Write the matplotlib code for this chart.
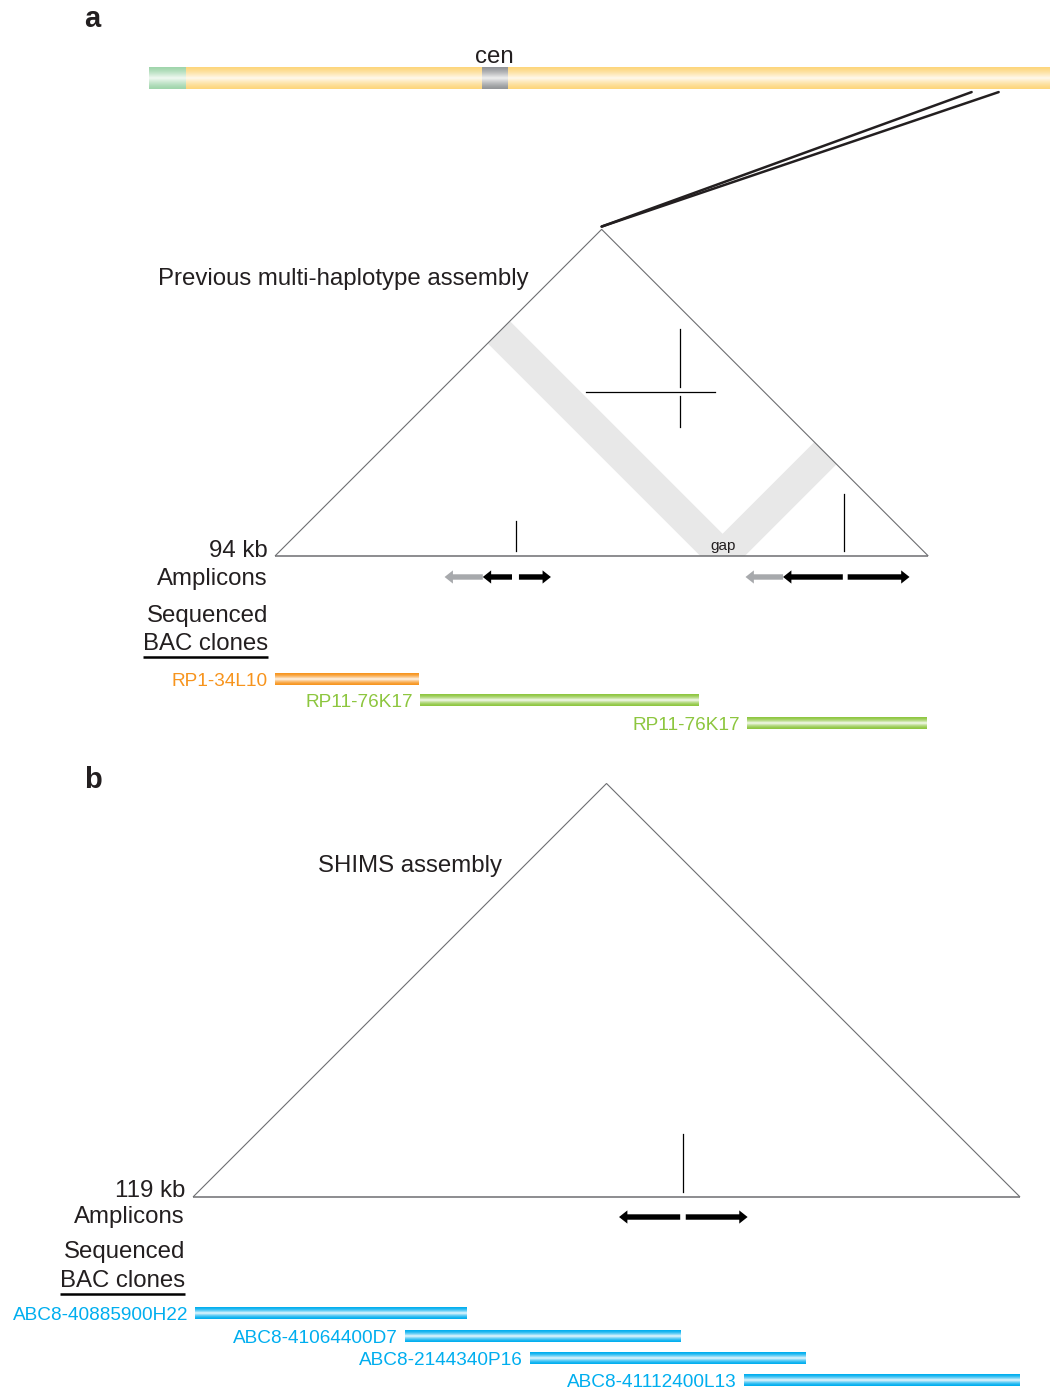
import numpy as np
import matplotlib
matplotlib.use('Agg')
import matplotlib.pyplot as plt
from matplotlib.patches import Polygon, FancyArrow, ConnectionPatch
from matplotlib.colors import to_rgb

plt.rcParams['font.family'] = ['Liberation Sans', 'DejaVu Sans']

W, H = 1050, 1390
PX_PER_KB = 6.95
INK = '#231f20'
EDGE = '#6d6e71'
GREY_ARROW = '#a7a9ac'
LABEL_SIZE = 17.3
CLONE_SIZE = 13.7

# chromosome ideogram (fraction of chromosome length)
chrom_bands = [(0.0, 1.0, '#fdd67c'), (0.0, 0.040, '#9fd5ab'), (0.3696, 0.398, '#939598')]
cen_band = (0.3696, 0.398)
region_on_chrom = [0.913, 0.943]

# panel a: previous multi-haplotype assembly (kb)
len_a = 94
gap_a = (61.2, 67.6)
tick_pos_a = [34.7, 81.9]
tick_top_a = [5.0, 8.9]
cross_hx = [44.75, 63.3]
cross_hy = 23.6
cross_vx = 58.3
cross_vy = [(18.6, 23.0), (24.3, 32.7)]
amp_tail_a = [29.9, 34.1, 35.1, 73.1, 81.7, 82.4]
amp_head_a = [24.4, 29.9, 39.7, 67.7, 73.1, 91.3]
amp_grey_a = [True, False, False, True, False, False]
bac_names_a = ['RP1-34L10', 'RP11-76K17', 'RP11-76K17']
bac_start_a = [0.0, 20.9, 67.9]
bac_end_a = [20.7, 61.0, 93.7]
bac_color_a = ['#f7941d', '#8dc63f', '#8dc63f']

# panel b: SHIMS assembly (kb)
len_b = 119
tick_pos_b = [70.5]
tick_top_b = [9.1]
amp_tail_b = [70.1, 70.9]
amp_head_b = [61.3, 79.8]
bac_names_b = ['ABC8-40885900H22', 'ABC8-41064400D7', 'ABC8-2144340P16', 'ABC8-41112400L13']
bac_start_b = [0.3, 30.5, 48.5, 79.3]
bac_end_b = [39.3, 70.2, 88.2, 119.0]
bac_color_b = ['#00aeef'] * 4

fig = plt.figure(figsize=(W / 100, H / 100), dpi=100)


def panel_axes(top_px, bottom_px, base_x_px, base_y_px):
    ax = fig.add_axes([0, 1 - bottom_px / H, 1, (bottom_px - top_px) / H])
    lims = ((-base_x_px / PX_PER_KB, (W - base_x_px) / PX_PER_KB),
            ((base_y_px - bottom_px) / PX_PER_KB, (base_y_px - top_px) / PX_PER_KB))
    ax.axis('off')
    return ax, lims


def shaded_bar(ax, x0, x1, yc, h, color, white=0.92, power=1.6):
    t = np.linspace(-1, 1, 64)
    mix = white * (1 - np.abs(t)) ** power
    rgb = np.array(to_rgb(color))
    img = rgb[None, :] * (1 - mix[:, None]) + mix[:, None]
    ax.imshow(img[:, None, :], extent=(x0, x1, yc - h / 2, yc + h / 2),
              aspect='auto', interpolation='bilinear', zorder=2)


def draw_triangle(ax, length):
    tri = Polygon([(0, 0), (length / 2, length / 2), (length, 0)], closed=False,
                  fill=False, edgecolor=EDGE, lw=0.8, zorder=3)
    ax.add_patch(tri)
    ax.plot([0, length], [0, 0], color=EDGE, lw=1.1, zorder=3, solid_capstyle='butt')


def draw_ticks(ax, pos, tops):
    for x, top in zip(pos, tops):
        ax.plot([x, x], [0.7, top], color='black', lw=0.9, zorder=4)


def draw_amplicons(ax, tails, heads, greys, row):
    for tail, head, grey in zip(tails, heads, greys):
        ax.add_patch(FancyArrow(tail, row, head - tail, 0, width=0.78, head_width=1.9,
                                head_length=1.2, length_includes_head=True, lw=0,
                                color=GREY_ARROW if grey else 'black', zorder=3 if grey else 4))


def draw_clones(ax, names, starts, ends, colors, rows):
    for name, s, e, c, r in zip(names, starts, ends, colors, rows):
        shaded_bar(ax, s, e, r, 1.6, c)
        ax.text(s - 1.0, r - 0.94, name, ha='right', va='baseline', color=c, fontsize=CLONE_SIZE)


def side_labels(ax, x, length, rows):
    texts = [ax.text(x, rows[0], f'{length} kb', ha='right', va='baseline',
                     color=INK, fontsize=LABEL_SIZE)]
    for label, y in zip(['Amplicons', 'Sequenced', 'BAC clones'], rows[1:]):
        texts.append(ax.text(x, y, label, ha='right', va='baseline', color=INK, fontsize=LABEL_SIZE))
    return texts


# chromosome
ax_c = fig.add_axes([149 / W, 1 - 89 / H, (W - 149) / W, 22 / H])
for x0, x1, c in chrom_bands:
    shaded_bar(ax_c, x0, x1, 0.5, 1.0, c, white=0.85, power=1.3)
ax_c.text(sum(cen_band) / 2, 1.17, 'cen', ha='center', va='baseline', color=INK, fontsize=LABEL_SIZE)
ax_c.set_xlim(0, 1)
ax_c.set_ylim(0, 1)
ax_c.axis('off')

# panel a
ax_a, lims_a = panel_axes(100, 745, 275, 556)
g1, g2 = gap_a
band_l = [(g1 / 2, g1 / 2), (g2 / 2, g2 / 2), (g2, 0), (g1, 0)]
band_r = [(g1, 0), (g2, 0), ((g2 + len_a) / 2, (len_a - g2) / 2), ((g1 + len_a) / 2, (len_a - g1) / 2)]
for pts in (band_l, band_r):
    ax_a.add_patch(Polygon(pts, closed=True, facecolor='#e8e8e8', edgecolor='none', zorder=1))
ax_a.text((g1 + g2) / 2, 0.86, 'gap', ha='center', va='baseline', color=INK, fontsize=11, zorder=5)
draw_triangle(ax_a, len_a)
draw_ticks(ax_a, tick_pos_a, tick_top_a)
ax_a.plot(cross_hx, [cross_hy, cross_hy], color='black', lw=0.9, zorder=4)
for y0, y1 in cross_vy:
    ax_a.plot([cross_vx, cross_vx], [y0, y1], color='black', lw=0.9, zorder=4)
draw_amplicons(ax_a, amp_tail_a, amp_head_a, amp_grey_a, -3.02)
draw_clones(ax_a, bac_names_a, bac_start_a, bac_end_a, bac_color_a, [-17.7, -20.8, -24.1])
title_y = 39.0
ax_a.text(title_y - 2.5, title_y, 'Previous multi-haplotype assembly', ha='right',
          va='baseline', color=INK, fontsize=LABEL_SIZE)
lab_a = side_labels(ax_a, -1.0, len_a, [-0.14, -4.17, -9.5, -13.5])

# panel b
ax_b, lims_b = panel_axes(745, 1390, 193, 1197)
draw_triangle(ax_b, len_b)
draw_ticks(ax_b, tick_pos_b, tick_top_b)
draw_amplicons(ax_b, amp_tail_b, amp_head_b, [False, False], -2.88)
draw_clones(ax_b, bac_names_b, bac_start_b, bac_end_b, bac_color_b, [-16.76, -20.0, -23.2, -26.45])
title_y = 46.76
ax_b.text(title_y - 2.3, title_y, 'SHIMS assembly', ha='right', va='baseline',
          color=INK, fontsize=LABEL_SIZE)
lab_b = side_labels(ax_b, -1.15, len_b, [0.0, -3.74, -8.78, -12.95])

for ax, lims in ((ax_a, lims_a), (ax_b, lims_b)):
    ax.set_xlim(*lims[0])
    ax.set_ylim(*lims[1])

# underline under "BAC clones"
fig.canvas.draw()
for ax, txt, ul in ((ax_a, lab_a[-1], -14.6), (ax_b, lab_b[-1], -13.96)):
    bb = txt.get_window_extent().transformed(ax.transData.inverted())
    ax.plot([bb.x0, bb.x1], [ul, ul], color='black', lw=1.8, solid_capstyle='butt')

# zoom lines from the chromosome to the apex of the triangle
for xc in region_on_chrom:
    con = ConnectionPatch(xyA=(xc, -0.14), coordsA=ax_c.transData,
                          xyB=(47.0, 47.4), coordsB=ax_a.transData,
                          color=INK, lw=1.8)
    fig.add_artist(con)

fig.text(84 / W, 1 - 27 / H, 'a', fontweight='bold', fontsize=21, color=INK, va='baseline')
fig.text(84 / W, 1 - 788 / H, 'b', fontweight='bold', fontsize=21, color=INK, va='baseline')

fig.savefig('out.png', dpi=100)
